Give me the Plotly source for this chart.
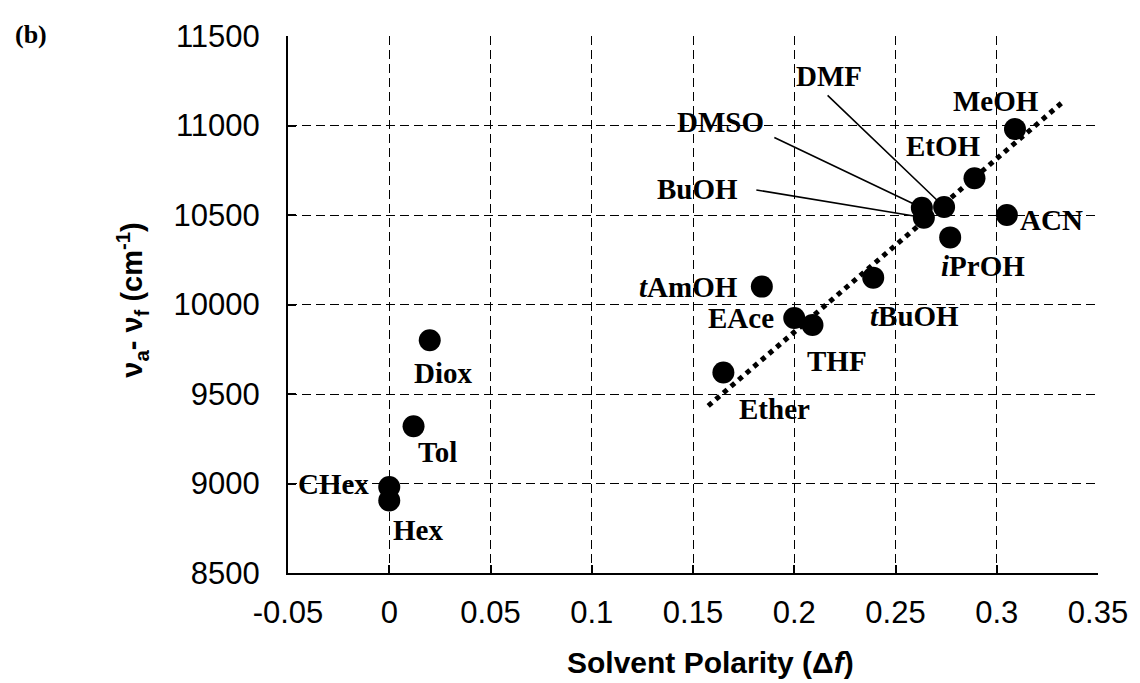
import plotly.graph_objects as go

# ---------------- data ----------------
solvents = ["Hex", "CHex", "Tol", "Diox", "Ether", "<i>t</i>AmOH", "EAce", "THF",
            "<i>t</i>BuOH", "DMSO", "BuOH", "DMF", "<i>i</i>PrOH", "EtOH", "ACN", "MeOH"]
delta_f = [0.000, 0.000, 0.012, 0.020, 0.165, 0.184, 0.200, 0.209,
           0.239, 0.263, 0.264, 0.274, 0.277, 0.289, 0.305, 0.309]
stokes_shift = [8905, 8980, 9320, 9800, 9620, 10100, 9925, 9885,
                10150, 10540, 10485, 10545, 10375, 10705, 10500, 10980]

fit_x = [0.1575, 0.3335]
fit_y = [9434, 11140]

x_ticks = [-0.05, 0, 0.05, 0.1, 0.15, 0.2, 0.25, 0.3, 0.35]
x_tick_labels = ["-0.05", "0", "0.05", "0.1", "0.15", "0.2", "0.25", "0.3", "0.35"]
y_ticks = [8500, 9000, 9500, 10000, 10500, 11000, 11500]
y_tick_labels = ["8500", "9000", "9500", "10000", "10500", "11000", "11500"]

# ---------------- label placement (pixel offsets: dx, dy up) ----------------
label_offsets = {
    "Hex": (29, -29), "CHex": (-56, 3), "Tol": (24, -26), "Diox": (14, -33),
    "Ether": (51, -36), "<i>t</i>AmOH": (-73, 0), "EAce": (-53, 0), "THF": (25, -36),
    "<i>t</i>BuOH": (41, -38), "DMSO": (-201, 86), "BuOH": (-226, 29), "DMF": (-115, 131),
    "<i>i</i>PrOH": (33, -29), "EtOH": (-31, 32), "ACN": (45, -5), "MeOH": (-19, 28),
}
# leader lines (tail offsets in px from the point; ay positive = down)
leaders = {"DMF": (-118, -113), "DMSO": (-149, -71), "BuOH": (-169, -28)}

SERIF = "Liberation Serif, Times New Roman, serif"
SANS = "Liberation Sans, Arial, sans-serif"

fig = go.Figure()
fig.add_trace(go.Scatter(
    x=fit_x, y=fit_y, mode="lines",
    line=dict(color="black", width=5, dash="dot"),
    hoverinfo="skip", showlegend=False))
fig.add_trace(go.Scatter(
    x=delta_f, y=stokes_shift, mode="markers",
    marker=dict(color="black", size=22, line=dict(width=0)),
    text=solvents, showlegend=False))

annotations = []
for name, xv, yv in zip(solvents, delta_f, stokes_shift):
    dx, dy = label_offsets[name]
    annotations.append(dict(
        x=xv, y=yv, xref="x", yref="y", text=f"<b>{name}</b>", showarrow=False,
        xshift=dx, yshift=dy, xanchor="center", yanchor="middle",
        font=dict(family=SERIF, size=29, color="black")))
    if name in leaders:
        ax, ay = leaders[name]
        annotations.append(dict(
            x=xv, y=yv, xref="x", yref="y", text="", showarrow=True,
            arrowhead=0, arrowwidth=1.6, arrowcolor="black",
            ax=ax, ay=ay, standoff=10))

annotations.append(dict(
    x=-0.317, y=1.003, xref="paper", yref="paper", text="<b>(b)</b>",
    showarrow=False, xanchor="center", yanchor="middle",
    font=dict(family=SERIF, size=26, color="black")))
annotations.append(dict(
    x=-0.192, y=0.508, xref="paper", yref="paper", textangle=-90,
    text="<b>ν<sub>a</sub>- ν<sub>f</sub> (cm<sup>-1</sup>)</b>",
    showarrow=False, xanchor="center", yanchor="middle",
    font=dict(family=SANS, size=29, color="black")))
annotations.append(dict(
    x=0.522, y=-0.166, xref="paper", yref="paper",
    text="<b>Solvent Polarity (Δ<i>f</i>)</b>",
    showarrow=False, xanchor="center", yanchor="middle",
    font=dict(family=SANS, size=30, color="black")))

axis_common = dict(
    showgrid=True, gridcolor="black", gridwidth=1, griddash="9px,5px",
    zeroline=False, showline=True, linecolor="black", linewidth=2,
    ticks="inside", ticklen=8, tickwidth=1.5, tickcolor="black",
    tickfont=dict(family=SANS, size=31, color="black"), mirror=False,
)

fig.update_layout(
    width=1140, height=683,
    margin=dict(l=288, r=37, t=36, b=110),
    paper_bgcolor="white", plot_bgcolor="white",
    xaxis=dict(range=[-0.05, 0.35], tickvals=x_ticks, ticktext=x_tick_labels,
               ticklabelstandoff=11, **axis_common),
    yaxis=dict(range=[8500, 11500], tickvals=y_ticks, ticktext=y_tick_labels,
               ticklabelstandoff=20, **axis_common),
    annotations=annotations,
    showlegend=False,
)

fig.write_html("out.html")
